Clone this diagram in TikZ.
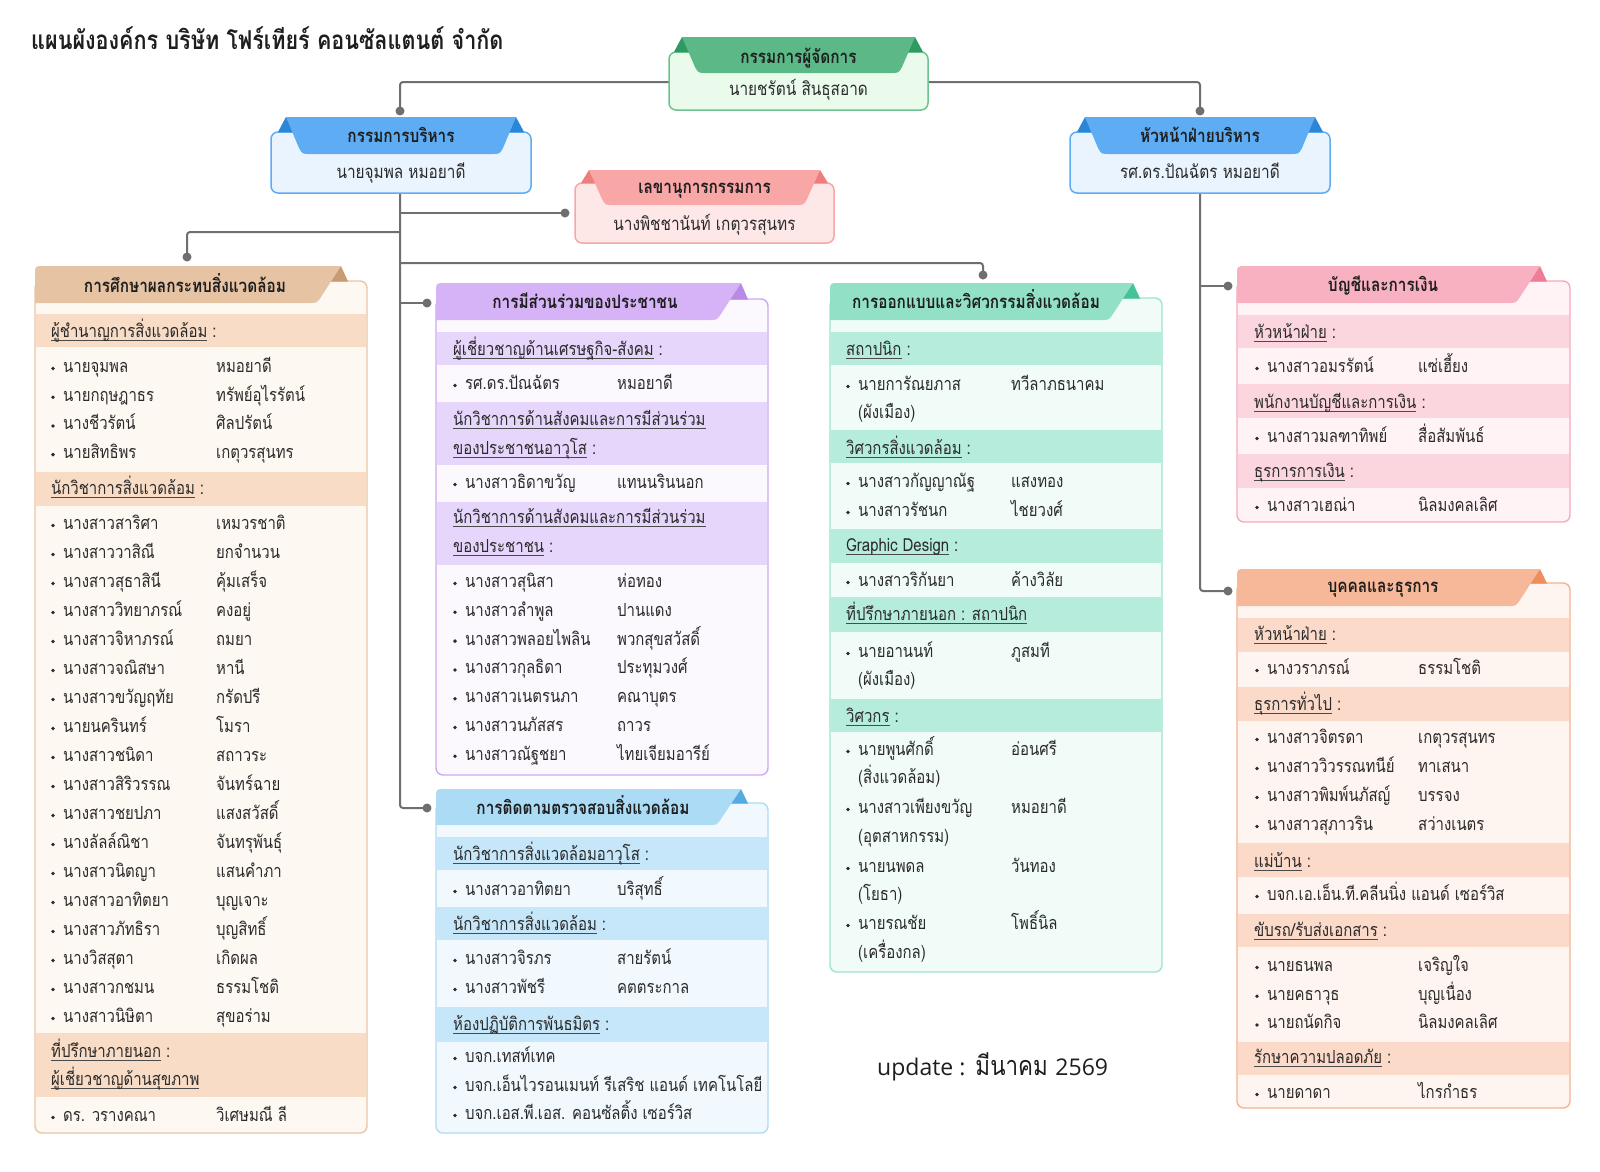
\documentclass[tikz,border=0pt]{standalone}
\usepackage{fontspec}
\setmainfont[Script=Thai, FakeStretch=0.83]{Loma}
\newfontfamily\latinfont{Open Sans}
\definecolor{connc}{HTML}{6F6F6F}
\definecolor{txt}{HTML}{2A2A2A}
\definecolor{ttl}{HTML}{1E1E1E}
\definecolor{ulc}{HTML}{4A4A4A}
% top boxes
\definecolor{Ghead}{HTML}{5CB987}\definecolor{Gdark}{HTML}{2F9A60}\definecolor{Gbody}{HTML}{EAFBEC}\definecolor{Gline}{HTML}{6CC290}
\definecolor{Bhead}{HTML}{5EACF3}\definecolor{Bdark}{HTML}{2C86D8}\definecolor{Bbody}{HTML}{EAF4FE}\definecolor{Bline}{HTML}{5EACF3}
\definecolor{Rhead}{HTML}{F8A6A6}\definecolor{Rdark}{HTML}{F07D7D}\definecolor{Rbody}{HTML}{FDE7E7}\definecolor{Rline}{HTML}{F5A7A7}
% section boxes
\definecolor{Lhead}{HTML}{E5C3A3}\definecolor{Ldark}{HTML}{C99B72}\definecolor{Lband}{HTML}{F8DCC6}\definecolor{Lbody}{HTML}{FEF8F3}\definecolor{Lline}{HTML}{EAC6A5}
\definecolor{Phead}{HTML}{D5B3F6}\definecolor{Pdark}{HTML}{B88AE8}\definecolor{Pband}{HTML}{E6D6FB}\definecolor{Pbody}{HTML}{FBF8FE}\definecolor{Pline}{HTML}{CEA8F3}
\definecolor{Mhead}{HTML}{ACDBF6}\definecolor{Mdark}{HTML}{55AADF}\definecolor{Mband}{HTML}{C6E7FA}\definecolor{Mbody}{HTML}{F1F9FE}\definecolor{Mline}{HTML}{AFDBF5}
\definecolor{Thead}{HTML}{92E1C7}\definecolor{Tdark}{HTML}{45C29A}\definecolor{Tband}{HTML}{B6ECDC}\definecolor{Tbody}{HTML}{F1FCF8}\definecolor{Tline}{HTML}{9DE4CE}
\definecolor{Fhead}{HTML}{F8B1C1}\definecolor{Fdark}{HTML}{EE7E97}\definecolor{Fband}{HTML}{FCD6DF}\definecolor{Fbody}{HTML}{FFF3F6}\definecolor{Fline}{HTML}{F5AABC}
\definecolor{Hhead}{HTML}{F7B899}\definecolor{Hdark}{HTML}{EE8D5D}\definecolor{Hband}{HTML}{FCDAC9}\definecolor{Hbody}{HTML}{FFF5F0}\definecolor{Hline}{HTML}{F4B291}

\newlength\ulwd
\newcommand\myul[1]{\settowidth\ulwd{#1}\rlap{\color{ulc}\rule[-3.6pt]{\ulwd}{0.9pt}}#1}
\newcommand\secbody[5]{\fill[#1body, rounded corners=7] (#2,#4) rectangle (#3,#5);}
\newcommand\band[5]{\fill[#1band] (#2+0.8,#4) rectangle (#3-0.8,#5);}
% #1 col, #2 xl, #3 xr, #4 ytop, #5 ybody, #6 yhb, #7 ybot, #8 xapex
\newcommand\secframe[8]{%
  \draw[#1line, line width=1.4, rounded corners=7] (#2,#5) rectangle (#3,#7);
  \fill[#1dark] (#8,#4) -- (#8+7,#5+0.5) -- (#8-14,#5+0.5) -- cycle;
  \fill[#1head] (#2,#6) -- (#2,#4+9) .. controls (#2,#4) .. (#2+9,#4) -- (#8,#4)
     -- (#8-19.6,#6-6.7) .. controls (#8-24,#6) .. (#8-32,#6) -- cycle;}
% #1 col, #2 xl, #3 xr, #4 ytop, #5 ybody, #6 ytabbottom, #7 ybot, #8 xtl, #9 xtr
\newcommand\topbox[9]{%
  \fill[#1body, rounded corners=7] (#2,#5) rectangle (#3,#7);
  \draw[#1line, line width=1.5, rounded corners=7] (#2,#5) rectangle (#3,#7);
  \fill[#1dark] (#8,#4) -- (#8+8,#5) -- (#8-8,#5) -- cycle;
  \fill[#1dark] (#9,#4) -- (#9+8,#5) -- (#9-8,#5) -- cycle;
  \fill[#1head] (#8,#4) -- (#9,#4) -- (#9-13,#6-6) .. controls (#9-16.5,#6) .. (#9-24,#6)
     -- (#8+24,#6) .. controls (#8+16.5,#6) .. (#8+13,#6-6) -- cycle;}
\newcommand\pitem[4]{%
  \fill[txt] (\Xbul,#2+1.5) circle[radius=1.9];
  \node[itm] (#1a) at (\Xnam,#2+5.5) {#3};
  \node[itm] (#1b) at (\Xsur,#2+5.5) {#4};}
\newcommand\pcont[3]{\node[itm] (#1) at (\Xnam,#2+5.5) {#3};}
\newcommand\blab[4]{\node[itm] (#1) at (\Xlab,#2+5.5) {\myul{#3}#4};}

\tikzset{
  itm/.style={anchor=base west, inner sep=0, text=txt, font=\fontsize{18}{21}\selectfont},
  sectitle/.style={anchor=base, inner sep=0, text=ttl, font=\bfseries\fontsize{18.5}{21}\selectfont},
  topname/.style={anchor=base, inner sep=0, text=txt, font=\fontsize{18.5}{21}\selectfont},
  cline/.style={draw=connc, line width=2, rounded corners=3},
}

\begin{document}
\begin{tikzpicture}[x=1pt,y=-1pt]
\useasboundingbox (0,0) rectangle (1600,1171);
\fill[white] (0,0) rectangle (1600,1171);

\node[anchor=base west, inner sep=0, text=ttl, font=\bfseries\fontsize{26}{30}\selectfont] (title) at (31,49) {แผนผังองค์กร บริษัท โฟร์เทียร์ คอนซัลแตนต์ จำกัด};

% ---------- connectors ----------
\coordinate (gmW) at (669,82); \coordinate (gmE) at (928,82);
\coordinate (d1) at (400,111); \coordinate (d2) at (1200,111);
\coordinate (b1S) at (400,193); \coordinate (b2S) at (1200,193);
\coordinate (j1) at (400,213); \coordinate (dSec) at (565,213);
\coordinate (j2) at (400,232); \coordinate (dL) at (187,257);
\coordinate (j3) at (400,263); \coordinate (dT) at (983,275);
\coordinate (j4) at (400,303); \coordinate (dP) at (427,303);
\coordinate (dM) at (427,808);
\coordinate (j5) at (1200,286); \coordinate (dF) at (1228,286);
\coordinate (dH) at (1228,591);
\draw[cline] (gmW) -| (d1);
\draw[cline] (gmE) -| (d2);
\draw[cline] (b1S) |- (dM);
\draw[cline] (j1) -- (dSec);
\draw[cline] (j2) -| (dL);
\draw[cline] (j3) -| (dT);
\draw[cline] (j4) -- (dP);
\draw[cline] (b2S) |- (dH);
\draw[cline] (j5) -- (dF);
\foreach \d in {d1,d2,dSec,dL,dT,dP,dM,dF,dH} \fill[connc] (\d) circle[radius=4.5];

% ---------- top boxes ----------
\topbox{G}{669}{928}{37}{52}{73}{110}{682}{915}
\node[sectitle] (gmT) at (798.5,63.5) {กรรมการผู้จัดการ};
\node[topname] (gmN) at (798.5,95.5) {นายชรัตน์ สินธุสอาด};

\topbox{B}{271}{531}{117}{132}{154}{193}{286}{516}
\node[sectitle] (b1T) at (401,142.5) {กรรมการบริหาร};
\node[topname] (b1N) at (401,178.5) {นายจุมพล หมอยาดี};

\topbox{B}{1070}{1330}{117}{132}{154}{193}{1085}{1315}
\node[sectitle] (b2T) at (1200,142.5) {หัวหน้าฝ่ายบริหาร};
\node[topname] (b2N) at (1200,178.5) {รศ.ดร.ปัณฉัตร หมอยาดี};

\topbox{R}{575}{834}{170}{183}{205}{243}{589}{820}
\node[sectitle] (rT) at (704.5,193.5) {เลขานุการกรรมการ};
\node[topname] (rN) at (704.5,230.5) {นางพิชชานันท์ เกตุวรสุนทร};

% ---------- left box ----------
\secbody{L}{35}{367}{281}{1133}
\band{L}{35}{367}{314}{347}\band{L}{35}{367}{472}{506}\band{L}{35}{367}{1033}{1097}
\secframe{L}{35}{367}{266}{281}{303}{1133}{341}
\node[sectitle] (Lt) at (185,292.5) {การศึกษาผลกระทบสิ่งแวดล้อม};
\def\Xlab{51}\def\Xbul{53}\def\Xnam{63}\def\Xsur{216}
\blab{L1}{332}{ผู้ชำนาญการสิ่งแวดล้อม}{\ :}
\foreach \nm/\sn [count=\i from 0] in {นายจุมพล/หมอยาดี, นายกฤษฎาธร/ทรัพย์อุไรรัตน์, นางชีวรัตน์/ศิลปรัตน์, นายสิทธิพร/เกตุวรสุนทร}{\pitem{La\i}{367+28.7*\i}{\nm}{\sn}}
\blab{L2}{489}{นักวิชาการสิ่งแวดล้อม}{\ :}
\foreach \nm/\sn [count=\i from 0] in {นางสาวสาริศา/เหมวรชาติ, นางสาววาสิณี/ยกจำนวน, นางสาวสุธาสินี/คุ้มเสร็จ, นางสาววิทยาภรณ์/คงอยู่, นางสาวจิหาภรณ์/ถมยา, นางสาวจณิสษา/หานี, นางสาวขวัญฤทัย/กรัดปรี, นายนครินทร์/โมรา, นางสาวชนิดา/สถาวระ, นางสาวสิริวรรณ/จันทร์ฉาย, นางสาวชยปภา/แสงสวัสดิ์, นางลัลล์ณิชา/จันทรุพันธุ์, นางสาวนิตญา/แสนคำภา, นางสาวอาทิตยา/บุญเจาะ, นางสาวภัทธิรา/บุญสิทธิ์, นางวิสสุตา/เกิดผล, นางสาวกชมน/ธรรมโชติ, นางสาวนิษิตา/สุขอร่าม}{\pitem{Lb\i}{524+29*\i}{\nm}{\sn}}
\blab{L3}{1052}{ที่ปรึกษาภายนอก}{\ :}
\blab{L3b}{1080}{ผู้เชี่ยวชาญด้านสุขภาพ}{}
\pitem{Lc0}{1116}{ดร. วรางคณา}{วิเศษมณี ลี}

% ---------- purple box ----------
\secbody{P}{436}{768}{299}{775}
\band{P}{436}{768}{332}{365}\band{P}{436}{768}{402}{465}\band{P}{436}{768}{502}{565}
\secframe{P}{436}{768}{283}{299}{320}{775}{741}
\node[sectitle] (Pt) at (585,308.5) {การมีส่วนร่วมของประชาชน};
\def\Xlab{453}\def\Xbul{455}\def\Xnam{465}\def\Xsur{617}
\blab{P1}{350}{ผู้เชี่ยวชาญด้านเศรษฐกิจ-สังคม}{\ :}
\pitem{Pa0}{384}{รศ.ดร.ปัณฉัตร}{หมอยาดี}
\blab{P2}{420}{นักวิชาการด้านสังคมและการมีส่วนร่วม}{}
\blab{P2b}{449}{ของประชาชนอาวุโส}{\ :}
\pitem{Pb0}{483}{นางสาวธิดาขวัญ}{แทนนรินนอก}
\blab{P3}{518}{นักวิชาการด้านสังคมและการมีส่วนร่วม}{}
\blab{P3b}{547}{ของประชาชน}{\ :}
\foreach \nm/\sn [count=\i from 0] in {นางสาวสุนิสา/ห่อทอง, นางสาวลำพูล/ปานแดง, นางสาวพลอยไพลิน/พวกสุขสวัสดิ์, นางสาวกุลธิดา/ประทุมวงศ์, นางสาวเนตรนภา/คณาบุตร, นางสาวนภัสสร/ถาวร, นางสาวณัฐชยา/ไทยเจียมอารีย์}{\pitem{Pc\i}{582+28.8*\i}{\nm}{\sn}}

% ---------- monitoring box ----------
\secbody{M}{436}{768}{803}{1133}
\band{M}{436}{768}{837}{870}\band{M}{436}{768}{907}{940}\band{M}{436}{768}{1007}{1042}
\secframe{M}{436}{768}{789}{803}{825}{1133}{741}
\node[sectitle] (Mt) at (583,814.5) {การติดตามตรวจสอบสิ่งแวดล้อม};
\blab{M1}{855}{นักวิชาการสิ่งแวดล้อมอาวุโส}{\ :}
\pitem{Ma0}{890}{นางสาวอาทิตยา}{บริสุทธิ์}
\blab{M2}{925}{นักวิชาการสิ่งแวดล้อม}{\ :}
\pitem{Mb0}{959}{นางสาวจิรภร}{สายรัตน์}
\pitem{Mb1}{988}{นางสาวพัชรี}{คตตระกาล}
\blab{M3}{1025}{ห้องปฏิบัติการพันธมิตร}{\ :}
\pitem{Mc0}{1057}{บจก.เทสท์เทค}{}
\pitem{Mc1}{1086}{บจก.เอ็นไวรอนเมนท์ รีเสริช แอนด์ เทคโนโลยี}{}
\pitem{Mc2}{1114}{บจก.เอส.พี.เอส. คอนซัลติ้ง เซอร์วิส}{}

% ---------- teal box ----------
\secbody{T}{830}{1162}{298}{972}
\band{T}{830}{1162}{332}{365}\band{T}{830}{1162}{430}{463}\band{T}{830}{1162}{529}{563}\band{T}{830}{1162}{597}{632}\band{T}{830}{1162}{699}{732}
\secframe{T}{830}{1162}{283}{298}{320}{972}{1133}
\node[sectitle] (Tt) at (976,308.5) {การออกแบบและวิศวกรรมสิ่งแวดล้อม};
\def\Xlab{846}\def\Xbul{848}\def\Xnam{858}\def\Xsur{1011}
\blab{T1}{350}{สถาปนิก}{\ :}
\pitem{Ta0}{385}{นายการัณยภาส}{ทวีลาภธนาคม}
\pcont{Ta0c}{413}{(ผังเมือง)}
\blab{T2}{449}{วิศวกรสิ่งแวดล้อม}{\ :}
\pitem{Tb0}{482}{นางสาวกัญญาณัฐ}{แสงทอง}
\pitem{Tb1}{511}{นางสาวรัชนก}{ไชยวงศ์}
\blab{T3}{546}{Graphic Design}{\ :}
\pitem{Tc0}{581}{นางสาวริกันยา}{ค้างวิลัย}
\blab{T4}{615}{ที่ปรึกษาภายนอก : สถาปนิก}{}
\pitem{Td0}{652}{นายอานนท์}{ภูสมที}
\pcont{Td0c}{680}{(ผังเมือง)}
\blab{T5}{717}{วิศวกร}{\ :}
\pitem{Te0}{750}{นายพูนศักดิ์}{อ่อนศรี}
\pcont{Te0c}{778}{(สิ่งแวดล้อม)}
\pitem{Te1}{808}{นางสาวเพียงขวัญ}{หมอยาดี}
\pcont{Te1c}{837}{(อุตสาหกรรม)}
\pitem{Te2}{867}{นายนพดล}{วันทอง}
\pcont{Te2c}{895}{(โยธา)}
\pitem{Te3}{924}{นายรณชัย}{โพธิ์นิล}
\pcont{Te3c}{953}{(เครื่องกล)}

\node[anchor=base west, inner sep=0, text=ttl, font=\fontsize{27}{30}\selectfont] (upd) at (877,1075) {{\latinfont\fontsize{23}{28}\selectfont update :} มีนาคม {\latinfont\fontsize{23}{28}\selectfont 2569}};

% ---------- pink box ----------
\secbody{F}{1237}{1570}{281}{522}
\band{F}{1237}{1570}{315}{348}\band{F}{1237}{1570}{384}{418}\band{F}{1237}{1570}{454}{488}
\secframe{F}{1237}{1570}{266}{281}{303}{522}{1540}
\node[sectitle] (Ft) at (1383,291.5) {บัญชีและการเงิน};
\def\Xlab{1254}\def\Xbul{1257}\def\Xnam{1267}\def\Xsur{1418}
\blab{F1}{333}{หัวหน้าฝ่าย}{\ :}
\pitem{Fa0}{367}{นางสาวอมรรัตน์}{แซ่เฮี้ยง}
\blab{F2}{403}{พนักงานบัญชีและการเงิน}{\ :}
\pitem{Fb0}{437}{นางสาวมลฑาทิพย์}{สื่อสัมพันธ์}
\blab{F3}{472}{ธุรการการเงิน}{\ :}
\pitem{Fc0}{506}{นางสาวเฮณ่า}{นิลมงคลเลิศ}

% ---------- orange box ----------
\secbody{H}{1237}{1570}{583}{1108}
\band{H}{1237}{1570}{618}{652}\band{H}{1237}{1570}{687}{721}\band{H}{1237}{1570}{843}{877}\band{H}{1237}{1570}{914}{947}\band{H}{1237}{1570}{1042}{1075}
\secframe{H}{1237}{1570}{569}{583}{606}{1108}{1540}
\node[sectitle] (Ht) at (1383,592.5) {บุคคลและธุรการ};
\blab{H1}{635}{หัวหน้าฝ่าย}{\ :}
\pitem{Ha0}{669}{นางวราภรณ์}{ธรรมโชติ}
\blab{H2}{705}{ธุรการทั่วไป}{\ :}
\foreach \nm/\sn [count=\i from 0] in {นางสาวจิตรดา/เกตุวรสุนทร, นางสาววิวรรณทนีย์/ทาเสนา, นางสาวพิมพ์นภัสญ์/บรรจง, นางสาวสุภาวริน/สว่างเนตร}{\pitem{Hb\i}{738+29*\i}{\nm}{\sn}}
\blab{H3}{862}{แม่บ้าน}{\ :}
\pitem{Hc0}{895}{บจก.เอ.เอ็น.ที.คลีนนิ่ง แอนด์ เซอร์วิส}{}
\blab{H4}{931}{ขับรถ/รับส่งเอกสาร}{\ :}
\foreach \nm/\sn [count=\i from 0] in {นายธนพล/เจริญใจ, นายคธาวุธ/บุญเนื่อง, นายถนัดกิจ/นิลมงคลเลิศ}{\pitem{Hd\i}{966+28.7*\i}{\nm}{\sn}}
\blab{H5}{1058}{รักษาความปลอดภัย}{\ :}
\pitem{He0}{1093}{นายดาดา}{ไกรกำธร}
\end{tikzpicture}
\end{document}
